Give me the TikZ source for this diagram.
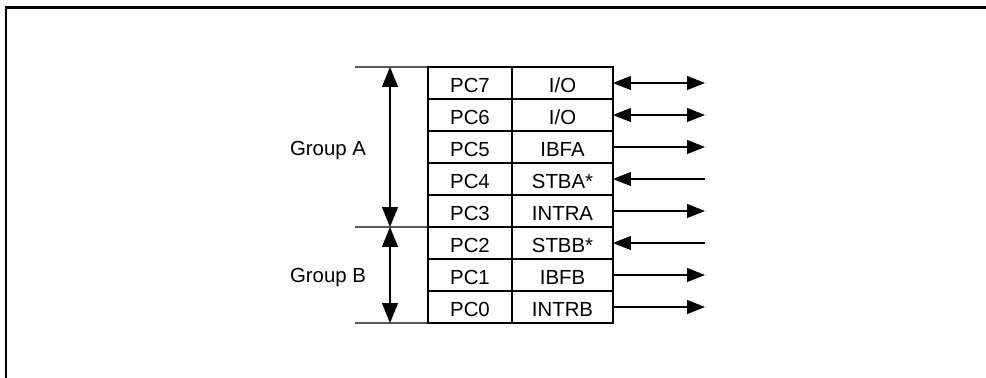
\documentclass[tikz,border=0pt]{standalone}
\usepackage{fontspec}
\setmainfont{Liberation Sans}
\usetikzlibrary{arrows.meta}
\tikzset{
  cell/.style={draw, line width=0.6pt, minimum height=0.64cm, inner sep=0pt, outer sep=0pt, text height=0.37cm, text depth=0pt},
  pincell/.style={cell, minimum width=1.68cm},
  sigcell/.style={cell, minimum width=2.02cm},
  wire/.style={line width=0.6pt},
  grparrow/.style={wire, {Triangle[length=4mm,width=3.2mm]}-{Triangle[length=4mm,width=3.2mm]}},
  >={Triangle[length=3.6mm,width=2.8mm]}
}
\begin{document}
\begin{tikzpicture}[x=0.02cm, y=-0.02cm, font=\fontsize{11.6}{14}\selectfont]
    \useasboundingbox (0,0) rectangle (986,378);
    \draw[line width=1.2pt] (6,378) -- (6,7.5) -- (986,7.5);
    \foreach \n/\s/\d [count=\i from 0] in {7/{I/O}/<->, 6/{I/O}/<->, 5/IBFA/->, 4/STBA*/<-, 3/INTRA/->, 2/STBB*/<-, 1/IBFB/->, 0/INTRB/->} {
        \node[pincell] (pc\n) at (470,{83+32*\i}) {PC\n};
        \node[sigcell] (sig\n) at (562.5,{83+32*\i}) {\s};
        \coordinate (out\n) at (705,{83+32*\i});
        \draw[wire, \d] (sig\n.east) -- (out\n);
    }
    \coordinate (topA) at (390,67);
    \coordinate (midAB) at (390,227);
    \coordinate (botB) at (390,323);
    \draw[wire] (355,67) -- (pc7.north west);
    \draw[wire] (355,227) -- (pc3.south west);
    \draw[wire] (355,323) -- (pc0.south west);
    \draw[grparrow] (topA) -- (midAB);
    \draw[grparrow] (midAB) -- (botB);
    \node (grpA) at (328,150) {Group A};
    \node (grpB) at (328,277) {Group B};
\end{tikzpicture}
\end{document}
